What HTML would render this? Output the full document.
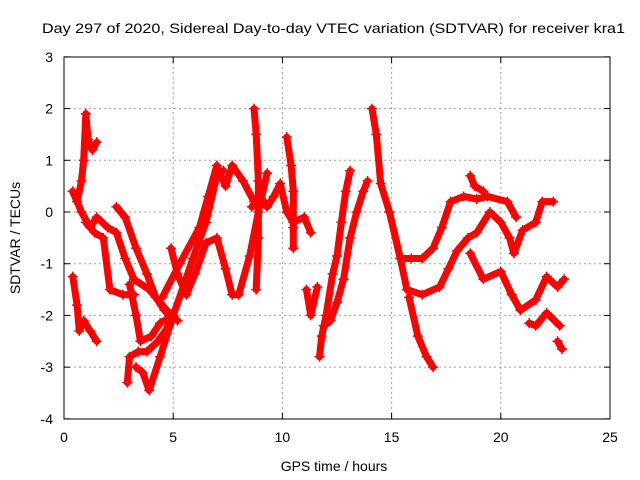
<!DOCTYPE html>
<html><head><meta charset="utf-8"><style>
body{margin:0;background:#fff;}
svg{display:block;font-family:"Liberation Sans",sans-serif;}
</style></head><body>
<svg id="chart" width="640" height="480">
<text x="42" y="33" font-size="14" textLength="583" lengthAdjust="spacingAndGlyphs" fill="#000">Day 297 of 2020, Sidereal Day-to-day VTEC variation (SDTVAR) for receiver kra1</text>
<text x="334" y="471" font-size="14" text-anchor="middle">GPS time / hours</text>
<text transform="translate(20,238) rotate(-90)" font-size="14" text-anchor="middle">SDTVAR / TECUs</text>
<g id="grid"></g><g id="ticks"></g><g id="marks"></g>
<rect x="64" y="57" width="546" height="362" fill="none" stroke="#000" stroke-width="1"/>
</svg>
<script>
const xTicks=[0,5,10,15,20,25];
const yTicks=[-4,-3,-2,-1,0,1,2,3];
const tA=[[0.4,0.4],[0.6,0.2],[0.8,0.6],[0.9,1.0],[1.0,1.9],[1.1,1.4],[1.3,1.2],[1.5,1.35]];
const tB=[[0.4,-1.25],[0.6,-1.8],[0.7,-2.3],[0.9,-2.1],[1.2,-2.3],[1.5,-2.5]];
const tC=[[0.4,0.4],[0.8,0.0],[1.2,-0.3],[1.5,-0.1],[2.0,-0.3],[2.4,-0.4],[2.8,-0.9],[3.2,-1.3],[3.9,-1.5],[4.7,-1.9],[5.2,-2.1]];
const tD=[[1.0,-0.2],[1.4,-0.4],[1.8,-0.5],[2.1,-1.5],[2.7,-1.6],[3.2,-1.6]];
const tE=[[2.4,0.1],[2.8,-0.1],[3.3,-0.7],[3.8,-1.2],[4.2,-1.65],[4.6,-1.9],[5.0,-2.1]];
const tF=[[3.0,-1.4],[3.3,-2.0],[3.5,-2.5],[4.0,-2.4],[4.4,-2.15],[5.0,-2.0]];
const tG=[[2.9,-3.3],[3.0,-2.8],[3.4,-2.7],[3.8,-2.7],[4.3,-2.5],[4.8,-2.2]];
const tH=[[3.3,-3.0],[3.6,-3.1],[3.9,-3.45],[4.4,-2.8],[5.0,-2.0],[5.5,-1.4],[5.9,-0.9],[6.5,-0.2],[7.0,0.7],[7.3,0.8]];
const tI=[[4.5,-1.65],[5.3,-1.0],[6.2,-0.3],[6.6,0.3],[7.0,0.9],[7.4,0.5],[7.7,0.9],[8.2,0.6],[8.7,0.2]];
const tJ=[[4.9,-0.7],[5.2,-1.2],[5.6,-1.6],[6.0,-1.2],[6.5,-0.6],[7.0,-0.5],[7.4,-1.1],[7.7,-1.6],[8.0,-1.6],[8.5,-0.85],[8.9,0.0],[9.3,0.75]];
const tK=[[8.7,2.0],[8.8,1.5],[8.9,0.6],[8.9,-0.5],[8.8,-1.5]];
const tL=[[8.6,0.1],[9.0,0.3],[9.3,0.1],[9.6,0.3],[9.9,0.55],[10.2,0.0],[10.5,-0.2],[11.0,-0.1],[11.3,-0.4]];
const tM=[[10.2,1.45],[10.4,0.9],[10.5,0.4],[10.5,-0.3],[10.5,-0.7]];
const tN=[[11.1,-1.5],[11.3,-2.0],[11.6,-1.45]];
const tO=[[11.7,-2.8],[11.8,-2.4],[12.0,-2.0],[12.3,-1.2],[12.5,-0.85],[12.7,-0.2],[12.9,0.4],[13.1,0.8]];
const tP=[[11.9,-2.2],[12.2,-2.1],[12.5,-1.75],[12.8,-1.3],[13.1,-0.5],[13.4,0.0],[13.7,0.4],[13.9,0.6]];
const tQ=[[14.1,2.0],[14.3,1.5],[14.5,0.55],[14.9,0.0],[15.4,-0.9],[15.9,-0.9],[16.4,-0.9],[16.9,-0.7],[17.3,-0.3],[17.7,0.2],[18.3,0.3],[18.9,0.25],[19.4,0.3],[20.3,0.2],[20.7,-0.1]];
const tR=[[14.9,0.0],[15.4,-0.9],[15.7,-1.5],[16.4,-1.6],[17.2,-1.45],[17.6,-1.1],[18.0,-0.75],[18.5,-0.5],[18.9,-0.4],[19.5,0.0],[20.0,-0.2],[20.4,-0.5],[20.6,-0.8],[21.0,-0.35],[21.6,-0.2],[21.9,0.2],[22.4,0.2]];
const tS=[[18.6,0.7],[18.8,0.5],[19.2,0.4]];
const tT=[[18.6,-0.8],[19.2,-1.3],[20.0,-1.15],[20.5,-1.6],[20.9,-1.9],[21.6,-1.7],[22.1,-1.25],[22.6,-1.45],[22.9,-1.3]];
const tU=[[21.3,-2.15],[21.6,-2.2],[22.1,-1.95],[22.7,-2.2]];
const tV=[[22.6,-2.5],[22.8,-2.65]];
const tW=[[15.8,-1.65],[16.2,-2.4],[16.6,-2.8],[16.9,-3.0]];
const series=[tA,tB,tC,tD,tE,tF,tG,tH,tI,tJ,tK,tL,tM,tN,tO,tP,tQ,tR,tS,tT,tU,tV,tW];
const X=t=>64+t*(546/25);
const Y=v=>212-v*(362/7);
const NS="http://www.w3.org/2000/svg";
const grid=document.getElementById('grid'),ticks=document.getElementById('ticks'),marks=document.getElementById('marks');
function mk(tag,attrs,parent){const e=document.createElementNS(NS,tag);for(const k in attrs)e.setAttribute(k,attrs[k]);parent.appendChild(e);return e;}
xTicks.forEach(t=>{
 if(t>0&&t<25){const g=mk('line',{x1:X(t),x2:X(t),y1:57,y2:419,stroke:'#a0a0a0','stroke-dasharray':'2,3'},grid);
 
 }
 mk('line',{x1:X(t),x2:X(t),y1:419,y2:413,stroke:'#000'},ticks);
 mk('line',{x1:X(t),x2:X(t),y1:57,y2:63,stroke:'#000'},ticks);
 const l=mk('text',{x:X(t),y:442,'font-size':14,'text-anchor':'middle'},ticks);l.textContent=t;
 
 
});
yTicks.forEach(v=>{
 if(v>-4&&v<3){const g=mk('line',{x1:64,x2:610,y1:Y(v),y2:Y(v),stroke:'#a0a0a0','stroke-dasharray':'2,3'},grid);
 
 }
 mk('line',{x1:64,x2:70,y1:Y(v),y2:Y(v),stroke:'#000'},ticks);
 mk('line',{x1:610,x2:604,y1:Y(v),y2:Y(v),stroke:'#000'},ticks);
 const l=mk('text',{x:53,y:Y(v)+5,'font-size':14,'text-anchor':'end'},ticks);l.textContent=v;
 
 
});
series.forEach(s=>{
 const p=mk('polyline',{points:s.map(d=>X(d[0])+','+Y(d[1])).join(' '),fill:'none',stroke:'#ff0000','stroke-width':7,'stroke-linejoin':'round','stroke-linecap':'round'},marks);
 
 
 s.forEach(d=>{
  const m=mk('path',{d:`M${X(d[0])-5},${Y(d[1])}h10M${X(d[0])},${Y(d[1])-5}v10`,stroke:'#ff0000','stroke-width':1.5},marks);
  
  
 });
});
</script>
</body></html>
